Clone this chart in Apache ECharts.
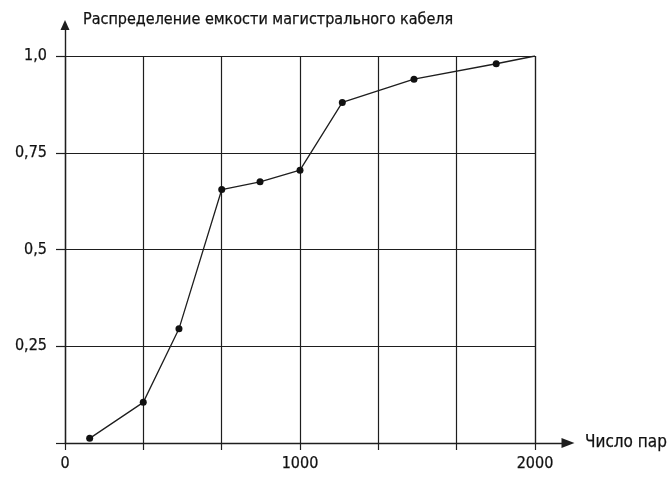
<!DOCTYPE html>
<html>
<head>
<meta charset="utf-8">
<script src="https://cdn.jsdelivr.net/npm/echarts@6/dist/echarts.min.js"></script>
<style>
  html, body { margin: 0; padding: 0; background: #fff; }
  #chart { width: 670px; height: 477px; }
</style>
</head>
<body>
<div id="chart"></div>
<script>
// Cumulative distribution of trunk cable capacity vs. number of pairs
const pairCounts = [105, 333, 485, 667, 830, 1000, 1180, 1485, 1835, 2000];
const shareValues = [0.012, 0.105, 0.295, 0.655, 0.675, 0.705, 0.88, 0.94, 0.98, 1.0];
const yTickLabels = { 1: '1,0', 0.75: '0,75', 0.5: '0,5', 0.25: '0,25' };
const xTickLabels = { 0: '0', 1000: '1000', 2000: '2000' };
const xAxisTitle = 'Число пар';
const yAxisTitle = 'Распределение емкости магистрального кабеля';

const FONT = "'DejaVu Sans Condensed', 'Liberation Sans', sans-serif";
const INK = '#1e1e1e';
const TEXT = '#111';
// a hairline outline gives the glyphs a slightly heavier stroke
const textWeight = { textBorderColor: TEXT, textBorderWidth: 0.25 };

// last point closes the curve at the corner without a marker
const seriesData = pairCounts.map((x, i) => {
  const item = { value: [x, shareValues[i]] };
  if (i === pairCounts.length - 1) item.symbol = 'none';
  return item;
});

const chart = echarts.init(document.getElementById('chart'), null, { renderer: 'canvas' });

chart.setOption({
  animation: false,
  backgroundColor: '#fff',
  grid: [
    { left: 65, right: 135, top: 56, bottom: 34 },   // plotting area
    { left: 65, right: 100, top: 25, bottom: 34 }    // extended axes with arrows
  ],
  xAxis: [
    {
      gridIndex: 0,
      type: 'value',
      min: 0,
      max: 2000,
      interval: 2000 / 6,
      axisLine: { show: false },
      axisTick: { show: true, length: 7, lineStyle: { color: INK, width: 1.2 } },
      axisLabel: Object.assign({
        margin: 13,
        fontFamily: FONT,
        fontSize: 16,
        color: TEXT,
        formatter: v => {
          const r = Math.round(v);
          return xTickLabels[r] !== undefined ? xTickLabels[r] : '';
        }
      }, textWeight),
      splitLine: { show: true, lineStyle: { color: INK, width: 1.2 } }
    },
    {
      gridIndex: 1,
      type: 'value',
      min: 0,
      max: 1,
      axisLine: {
        show: true,
        symbol: ['none', 'triangle'],
        symbolSize: [10, 13],
        lineStyle: { color: INK, width: 1.4 }
      },
      axisTick: { show: false },
      axisLabel: { show: false },
      splitLine: { show: false },
      name: xAxisTitle,
      nameLocation: 'end',
      nameGap: 17,
      nameTextStyle: Object.assign({
        fontFamily: FONT, fontSize: 17, color: TEXT, align: 'left', verticalAlign: 'middle'
      }, textWeight)
    }
  ],
  yAxis: [
    {
      gridIndex: 0,
      type: 'value',
      min: 0,
      max: 1,
      interval: 0.25,
      axisLine: { show: false },
      axisTick: { show: true, length: 9, lineStyle: { color: INK, width: 1.2 } },
      axisLabel: Object.assign({
        margin: 18,
        fontFamily: FONT,
        fontSize: 16,
        color: TEXT,
        formatter: v => {
          const key = Math.round(v * 100) / 100;
          return yTickLabels[key] || '';
        }
      }, textWeight),
      splitLine: { show: true, lineStyle: { color: INK, width: 1.2 } }
    },
    {
      gridIndex: 1,
      type: 'value',
      min: 0,
      max: 1,
      axisLine: {
        show: true,
        symbol: ['none', 'triangle'],
        symbolSize: [9, 10],
        lineStyle: { color: INK, width: 1.4 }
      },
      axisTick: { show: false },
      axisLabel: { show: false },
      splitLine: { show: false },
      name: yAxisTitle,
      nameLocation: 'end',
      nameGap: 5,
      nameTextStyle: Object.assign({
        fontFamily: FONT, fontSize: 16, color: TEXT,
        align: 'left', verticalAlign: 'middle', padding: [0, 0, 0, 18]
      }, textWeight)
    }
  ],
  series: [
    {
      type: 'line',
      xAxisIndex: 0,
      yAxisIndex: 0,
      data: seriesData,
      symbol: 'circle',
      symbolSize: 7,
      lineStyle: { color: INK, width: 1.3 },
      itemStyle: { color: '#111' },
      z: 5
    }
  ]
});
</script>
</body>
</html>
